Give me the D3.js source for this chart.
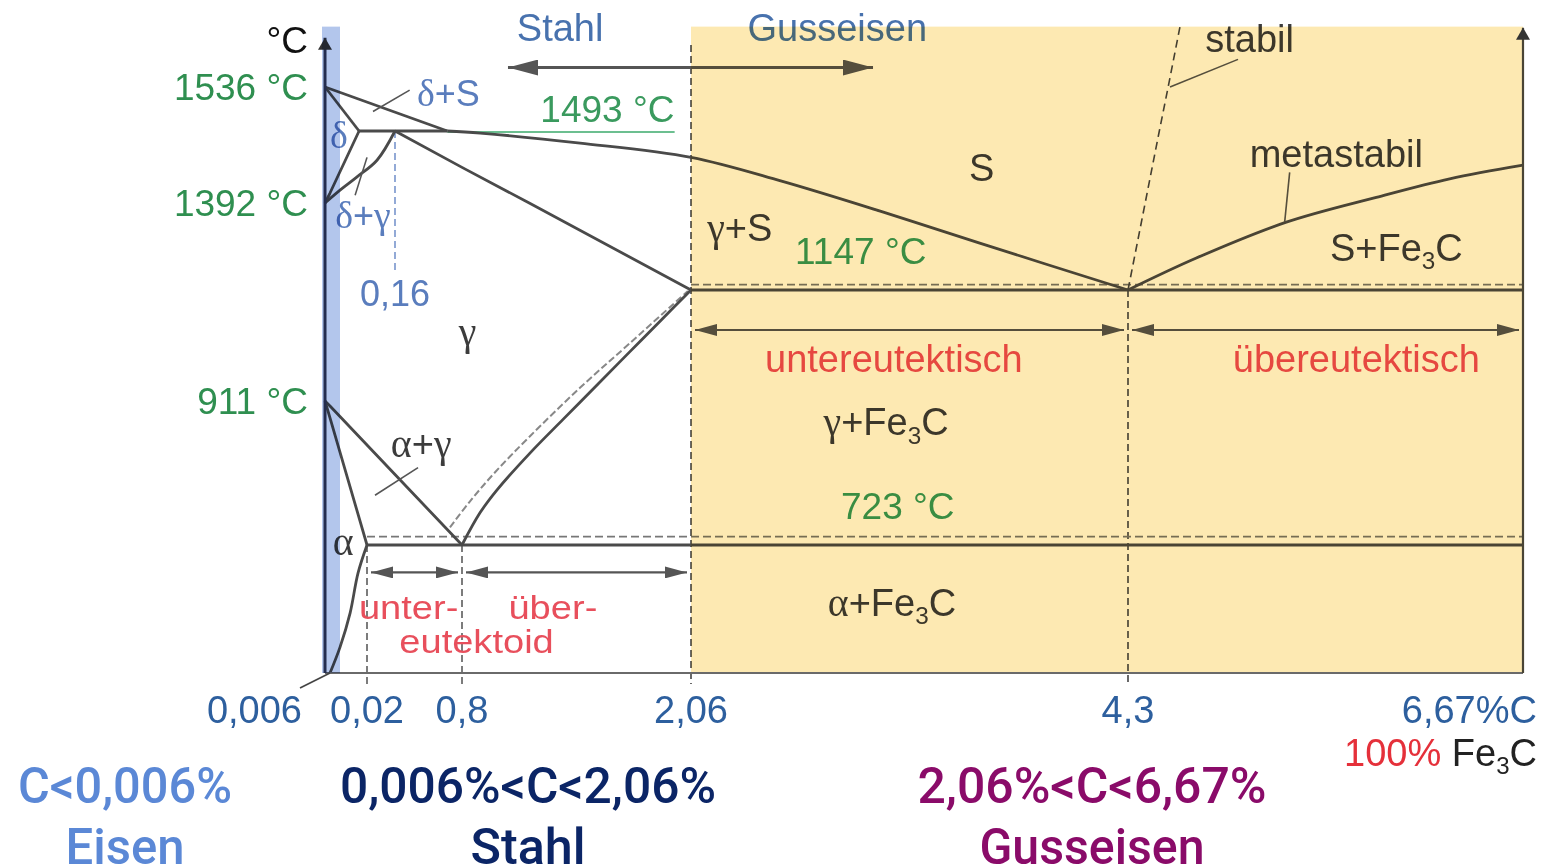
<!DOCTYPE html>
<html><head><meta charset="utf-8">
<script src="https://cdn.jsdelivr.net/npm/d3@7"></script>
<style>html,body{margin:0;background:#fff}svg{display:block}</style>
</head><body>
<svg id="c" width="1546" height="865"></svg>
<script>
// ---------------- data ----------------
const carbonTicks = [0.006, 0.02, 0.8, 2.06, 4.3, 6.67];
const carbonTickLabels = ["0,006", "0,02", "0,8", "2,06", "4,3", "6,67%C"];
const tempTicks = [1536, 1392, 911];
const tempTickLabels = ["1536 °C", "1392 °C", "911 °C"];
const xBreaks = [0, 0.006, 0.02, 0.16, 0.8, 2.06, 4.3, 6.67];   // schematic (non-linear) carbon axis
const tBreaks = [1536, 1493, 1392, 1147, 911, 723, 550];        // schematic temperature axis
const tTop = 1595, tAxisTop = 1590, tBottom = 550;

// phase boundaries, [carbon %, temperature °C]
const liquidusDelta   = [[0,1536],[0.66,1493]];
const solidusDelta    = [[0,1536],[0.017,1493]];
const peritecticLine  = [[0.017,1493],[0.66,1493]];
const liquidusGamma   = [[0.66,1493],[0.90,1490],[1.45,1476],[2.06,1456],[2.52,1423],[3.03,1369],[3.54,1279],[4.3,1147]];
const solidusGamma    = [[0.16,1493],[0.8,1442],[1.17,1392],[2.06,1147]];
const deltaBoundary   = [[0.017,1493],[0.006,1406],[0,1392]];
const gammaBoundary   = [[0.16,1493],[0.07,1452],[0.016,1428],[0.0098,1410],[0,1392]];
const a3Line          = [[0,911],[0.006,904.5],[0.02,853.6],[0.16,815],[0.8,723]];
const alphaBoundary   = [[0,911],[0.006,889],[0.02,723]];
const alphaSolvus     = [[0.02,723],[0.0166,685],[0.0136,631],[0.0098,585],[0.006,550]];
const acmMetastable   = [[2.06,1147],[1.906,1087],[1.724,1016],[1.543,945],[1.356,887],[1.174,843],[0.993,795],[0.899,765],[0.8,723]];
const acmStable       = [[0.685,746],[0.844,780],[0.982,818],[1.174,865],[1.449,939],[1.724,1034],[2.043,1145]];
const liquidusFe3C    = [[4.3,1147],[4.71,1237],[5.25,1338],[5.79,1400],[6.23,1426],[6.67,1445]];
const liquidusStable  = [[4.3,1147],[4.403,1392],[4.488,1493],[4.541,1536],[4.612,1595]];
const eutecticT = 1147, eutecticStableT = 1162, eutectoidT = 723, eutectoidStableT = 734, peritecticT = 1493;
const peritecticC = 0.16, eutecticC = 4.3, eutectoidC = 0.8, steelLimitC = 2.06, alphaMaxC = 0.02, fe3cC = 6.67;

// label leaders [[C,T],[C,T]]
const leaders = [
  [[0.05,1512],[0.30,1533]],      // δ+S
  [[0.02,1456],[0.0155,1403]],    // δ+γ
  [[0.06,788],[0.38,824]],        // α+γ
  [[5.27,1435],[5.24,1338]],      // metastabil
  [[4.552,1536],[4.96,1563]]      // stabil
];

// range arrows [C from, C to, T]
const rangeArrows = [[0.02,0.8,686],[0.8,2.06,686],[2.06,4.3,1062],[4.3,6.67,1062]];
const steelCastArrow = {from:1.053, split:2.06, to:2.993, t:1555};

const phaseLabels = [
  {text:"δ+S", c:0.67, t:1530, kind:"blue"},
  {text:"δ", c:0.0094, t:1487, kind:"blue"},
  {text:"δ+γ", c:0.0185, t:1358, kind:"blue"},
  {text:"0,16", c:0.16, t:1141, kind:"blue"},
  {text:"1493 °C", c:1.6, t:1515, kind:"green"},
  {text:"γ", c:0.83, t:1060, kind:"dark"},
  {text:"S", c:3.55, t:1442, kind:"dark"},
  {text:"γ+S", c:2.31, t:1324, kind:"dark"},
  {text:"1147 °C", c:2.93, t:1257, kind:"green"},
  {text:"S+Fe_3C", c:5.91, t:1268, kind:"dark"},
  {text:"metastabil", c:5.55, t:1462, kind:"dark"},
  {text:"stabil", c:5.03, t:1584, kind:"dark"},
  {text:"untereutektisch", c:3.1, t:1002, kind:"red"},
  {text:"übereutektisch", c:5.67, t:1002, kind:"red"},
  {text:"γ+Fe_3C", c:3.06, t:884, kind:"dark"},
  {text:"723 °C", c:3.12, t:774, kind:"green"},
  {text:"α+Fe_3C", c:3.09, t:646, kind:"dark"},
  {text:"α+γ", c:0.41, t:856, kind:"dark"},
  {text:"α", c:0.011, t:728, kind:"dark"},
  {text:"unter-", c:0.29, t:640, kind:"redSmall"},
  {text:"über-", c:1.30, t:640, kind:"redSmall"},
  {text:"eutektoid", c:0.88, t:594, kind:"redSmall"},
  {text:"Stahl", c:1.34, t:1594, kind:"title"},
  {text:"Gusseisen", c:2.81, t:1594, kind:"title"}
];

const classTexts = [
  {line1:"C<0,006%", line2:"Eisen", color:"#5b88d6"},
  {line1:"0,006%<C<2,06%", line2:"Stahl", color:"#0b2566"},
  {line1:"2,06%<C<6,67%", line2:"Gusseisen", color:"#8a0b69"}
];

// ---------------- drawing ----------------
const svg = d3.select("#c");
const x = d3.scaleLinear().domain(xBreaks).range([325, 330, 367, 395, 462, 691, 1128, 1523]);
const y = d3.scaleLinear().domain(tBreaks).range([87, 131, 203, 290, 401, 545, 673]);

const LINE = "#4a4a4a", DASH = "#5c5c5c";
const colors = {blue:"#5a7dbd", green:"#3a9a5e", dark:"#3c3c3c", red:"#e84f5c", redSmall:"#e84f5c", title:"#4872ae"};
const labelSize = {blue:36, green:37, dark:38, red:38, redSmall:34, title:38};
const labelStretch = {redSmall:1.12};
const SANS = "'Liberation Sans', Arial, Helvetica, sans-serif";
const SERIF = "'Liberation Serif', 'Times New Roman', serif";

const defs = svg.append("defs");
function marker(id, color, len, wid){
  defs.append("marker").attr("id",id).attr("viewBox",`0 0 ${len} ${wid}`)
    .attr("refX",len).attr("refY",wid/2).attr("markerWidth",len).attr("markerHeight",wid)
    .attr("markerUnits","userSpaceOnUse").attr("orient","auto-start-reverse")
    .append("path").attr("d",`M0,0L${len},${wid/2}L0,${wid}Z`).attr("fill",color);
}
marker("ah", "#555", 22, 12);
marker("ahBig", "#555", 30, 16);
marker("axisHead", "#333", 12, 14);

const straight = d3.line().x(d=>x(d[0])).y(d=>y(d[1]));
const smooth = d3.line().x(d=>x(d[0])).y(d=>y(d[1])).curve(d3.curveCatmullRom.alpha(0.5));

const g = svg.append("g");

// dashed reference lines
function vdash(c, t0, t1, extra, color){
  g.append("line").attr("x1",x(c)).attr("x2",x(c)).attr("y1",y(t0)).attr("y2",y(t1)+extra)
   .attr("stroke",color||DASH).attr("stroke-width",1.6).attr("stroke-dasharray","7,4");
}
vdash(alphaMaxC, eutectoidT, tBottom, 11);
vdash(eutectoidC, eutectoidT, tBottom, 11);
vdash(steelLimitC, 1577, tBottom, 11, "#444");
vdash(eutecticC, eutecticT, tBottom, 11, "#444");
vdash(peritecticC, peritecticT, 1198, 0, "#7895cc");

function hline(c0, c1, t, dashed, w){
  g.append("line").attr("x1",x(c0)).attr("x2",x(c1)).attr("y1",y(t)).attr("y2",y(t))
   .attr("stroke",dashed?"#777":LINE).attr("stroke-width",w||(dashed?1.8:3))
   .attr("stroke-dasharray",dashed?"8,4":null);
}
hline(steelLimitC, fe3cC, eutecticStableT, true);
hline(alphaMaxC, fe3cC, eutectoidStableT, true);
hline(steelLimitC, fe3cC, eutecticT, false);
hline(alphaMaxC, fe3cC, eutectoidT, false);

// stable (graphite) dashed curves
g.append("path").attr("d",smooth(acmStable)).attr("fill","none").attr("stroke","#888").attr("stroke-width",2).attr("stroke-dasharray","7,3");
g.append("path").attr("d",straight(liquidusStable)).attr("fill","none").attr("stroke","#444").attr("stroke-width",1.6).attr("stroke-dasharray","8,5");

// 1493 green guide
g.append("line").attr("x1",x(0.66)).attr("x2",x(1.97)).attr("y1",y(peritecticT)+1).attr("y2",y(peritecticT)+1)
  .attr("stroke","#6cbf90").attr("stroke-width",2.2);

// solid phase boundaries
[[liquidusDelta,straight],[solidusDelta,straight],[peritecticLine,straight],[liquidusGamma,smooth],
 [solidusGamma,straight],[deltaBoundary,straight],[gammaBoundary,smooth],[a3Line,straight],
 [alphaBoundary,straight],[alphaSolvus,smooth],[acmMetastable,smooth],[liquidusFe3C,smooth]]
 .forEach(([d,gen])=>g.append("path").attr("d",gen(d)).attr("fill","none").attr("stroke",LINE)
   .attr("stroke-width",2.8).attr("stroke-linejoin","round"));

// leaders
leaders.forEach(l=>g.append("path").attr("d",straight(l)).attr("stroke","#555").attr("stroke-width",1.6).attr("fill","none"));

// range arrows
rangeArrows.forEach(([a,b,t])=>{
  g.append("line").attr("x1",x(a)+4).attr("x2",x(b)-4).attr("y1",y(t)).attr("y2",y(t))
   .attr("stroke","#555").attr("stroke-width",2.2)
   .attr("marker-start","url(#ah)").attr("marker-end","url(#ah)");
});
[steelCastArrow.from, steelCastArrow.to].forEach(c=>{
  g.append("line").attr("x1",x(steelCastArrow.split)).attr("x2",x(c))
    .attr("y1",y(steelCastArrow.t)).attr("y2",y(steelCastArrow.t)).attr("stroke","#555").attr("stroke-width",3)
    .attr("marker-end","url(#ahBig)");
});

// text helper (greek in serif, _n subscript)
function richText(parent, str, px, py, size, fill, anchor, stretch){
  const t = parent.append("text").attr("x",px).attr("y",py+size*0.36)
    .attr("text-anchor",anchor||"middle").attr("font-family",SANS).attr("font-size",size).attr("fill",fill);
  if(stretch) t.attr("x",0).attr("y",0).attr("transform",`translate(${px},${py+size*0.36}) scale(${stretch},1)`);
  const re = /(_\d)|([αγδ])|([^_αγδ]+)/g;
  let m, shift = 0;
  while((m = re.exec(str))){
    const sp = t.append("tspan");
    if(m[1]){ const d = size*0.22; sp.attr("font-size",size*0.64).attr("dy",d).text(m[1].slice(1)); shift = d; continue; }
    if(shift){ sp.attr("dy",-shift); shift = 0; }
    if(m[2]) sp.attr("font-family",SERIF).attr("font-size",size*1.05).text(m[2]);
    else sp.text(m[3]);
  }
  return t;
}

phaseLabels.forEach(l=>richText(g, l.text, x(l.c), y(l.t), labelSize[l.kind], colors[l.kind], "middle", labelStretch[l.kind]));

// overlay (multiply): cast-iron area
svg.append("rect").attr("x",x(steelLimitC)).attr("y",y(tTop)).attr("width",x(fe3cC)-x(steelLimitC))
  .attr("height",y(tBottom)-y(tTop)).attr("fill","#fde9b2").style("mix-blend-mode","multiply");

// axes
const ax = svg.append("g");
ax.append("line").attr("x1",x(0)).attr("x2",x(fe3cC)).attr("y1",y(tBottom)).attr("y2",y(tBottom))
  .attr("stroke","#6a6a6a").attr("stroke-width",2);
ax.append("line").attr("x1",x(0)).attr("x2",x(0)).attr("y1",y(tBottom)).attr("y2",y(tAxisTop)+6)
  .attr("stroke","#333a55").attr("stroke-width",3).attr("marker-end","url(#axisHead)");
ax.append("line").attr("x1",x(fe3cC)).attr("x2",x(fe3cC)).attr("y1",y(tBottom)).attr("y2",y(tAxisTop+4))
  .attr("stroke","#4a4535").attr("stroke-width",2.2).attr("marker-end","url(#axisHead)");
ax.append("line").attr("x1",x(0.006)).attr("y1",y(tBottom)).attr("x2",x(0.006)-30).attr("y2",y(tBottom)+15)
  .attr("stroke","#444").attr("stroke-width",1.8);

// overlay (multiply): pure-iron band
svg.append("rect").attr("x",x(0)-3).attr("y",y(tTop)).attr("width",18).attr("height",y(tBottom)-y(tTop))
  .attr("fill","#b3c6ec").style("mix-blend-mode","multiply");

// axis labels
const tl = svg.append("g");
tempTicks.forEach((t,i)=>richText(tl, tempTickLabels[i], x(0)-17, y(t), 37, "#2f8f50", "end"));
richText(tl, "°C", x(0)-17, y(1582), 37, "#111", "end");
carbonTicks.forEach((c,i)=>{
  let px = x(c), anchor = "middle";
  if(i===0){ px = x(c)-28; anchor = "end"; }
  if(i===carbonTicks.length-1){ px = x(c)+14; anchor = "end"; }
  richText(tl, carbonTickLabels[i], px, y(tBottom)+36, 38, "#2d5f9e", anchor);
});
const fe = tl.append("text").attr("x",x(fe3cC)+14).attr("y",y(tBottom)+79+14).attr("text-anchor","end")
  .attr("font-family",SANS).attr("font-size",38);
fe.append("tspan").attr("fill","#e5303a").text("100%");
fe.append("tspan").attr("fill","#222").text(" Fe");
fe.append("tspan").attr("fill","#222").attr("font-size",24).attr("dy",8).text("3");
fe.append("tspan").attr("fill","#222").attr("dy",-8).text("C");

// classification texts
const centers = [125, 528, 1092];
const widths1 = [214, 376, 349], widths2 = [119, 115, 225];
classTexts.forEach((d,i)=>{
  [[d.line1, 803, widths1[i]], [d.line2, 864, widths2[i]]].forEach(([txt, yy, w])=>{
    svg.append("text").attr("x",centers[i]).attr("y",yy).attr("text-anchor","middle")
      .attr("font-family","Roboto, 'Noto Sans', sans-serif").attr("font-weight",500).attr("font-size",50)
      .attr("fill",d.color).attr("textLength",w).attr("lengthAdjust","spacingAndGlyphs").text(txt);
  });
});
</script>
</body></html>
